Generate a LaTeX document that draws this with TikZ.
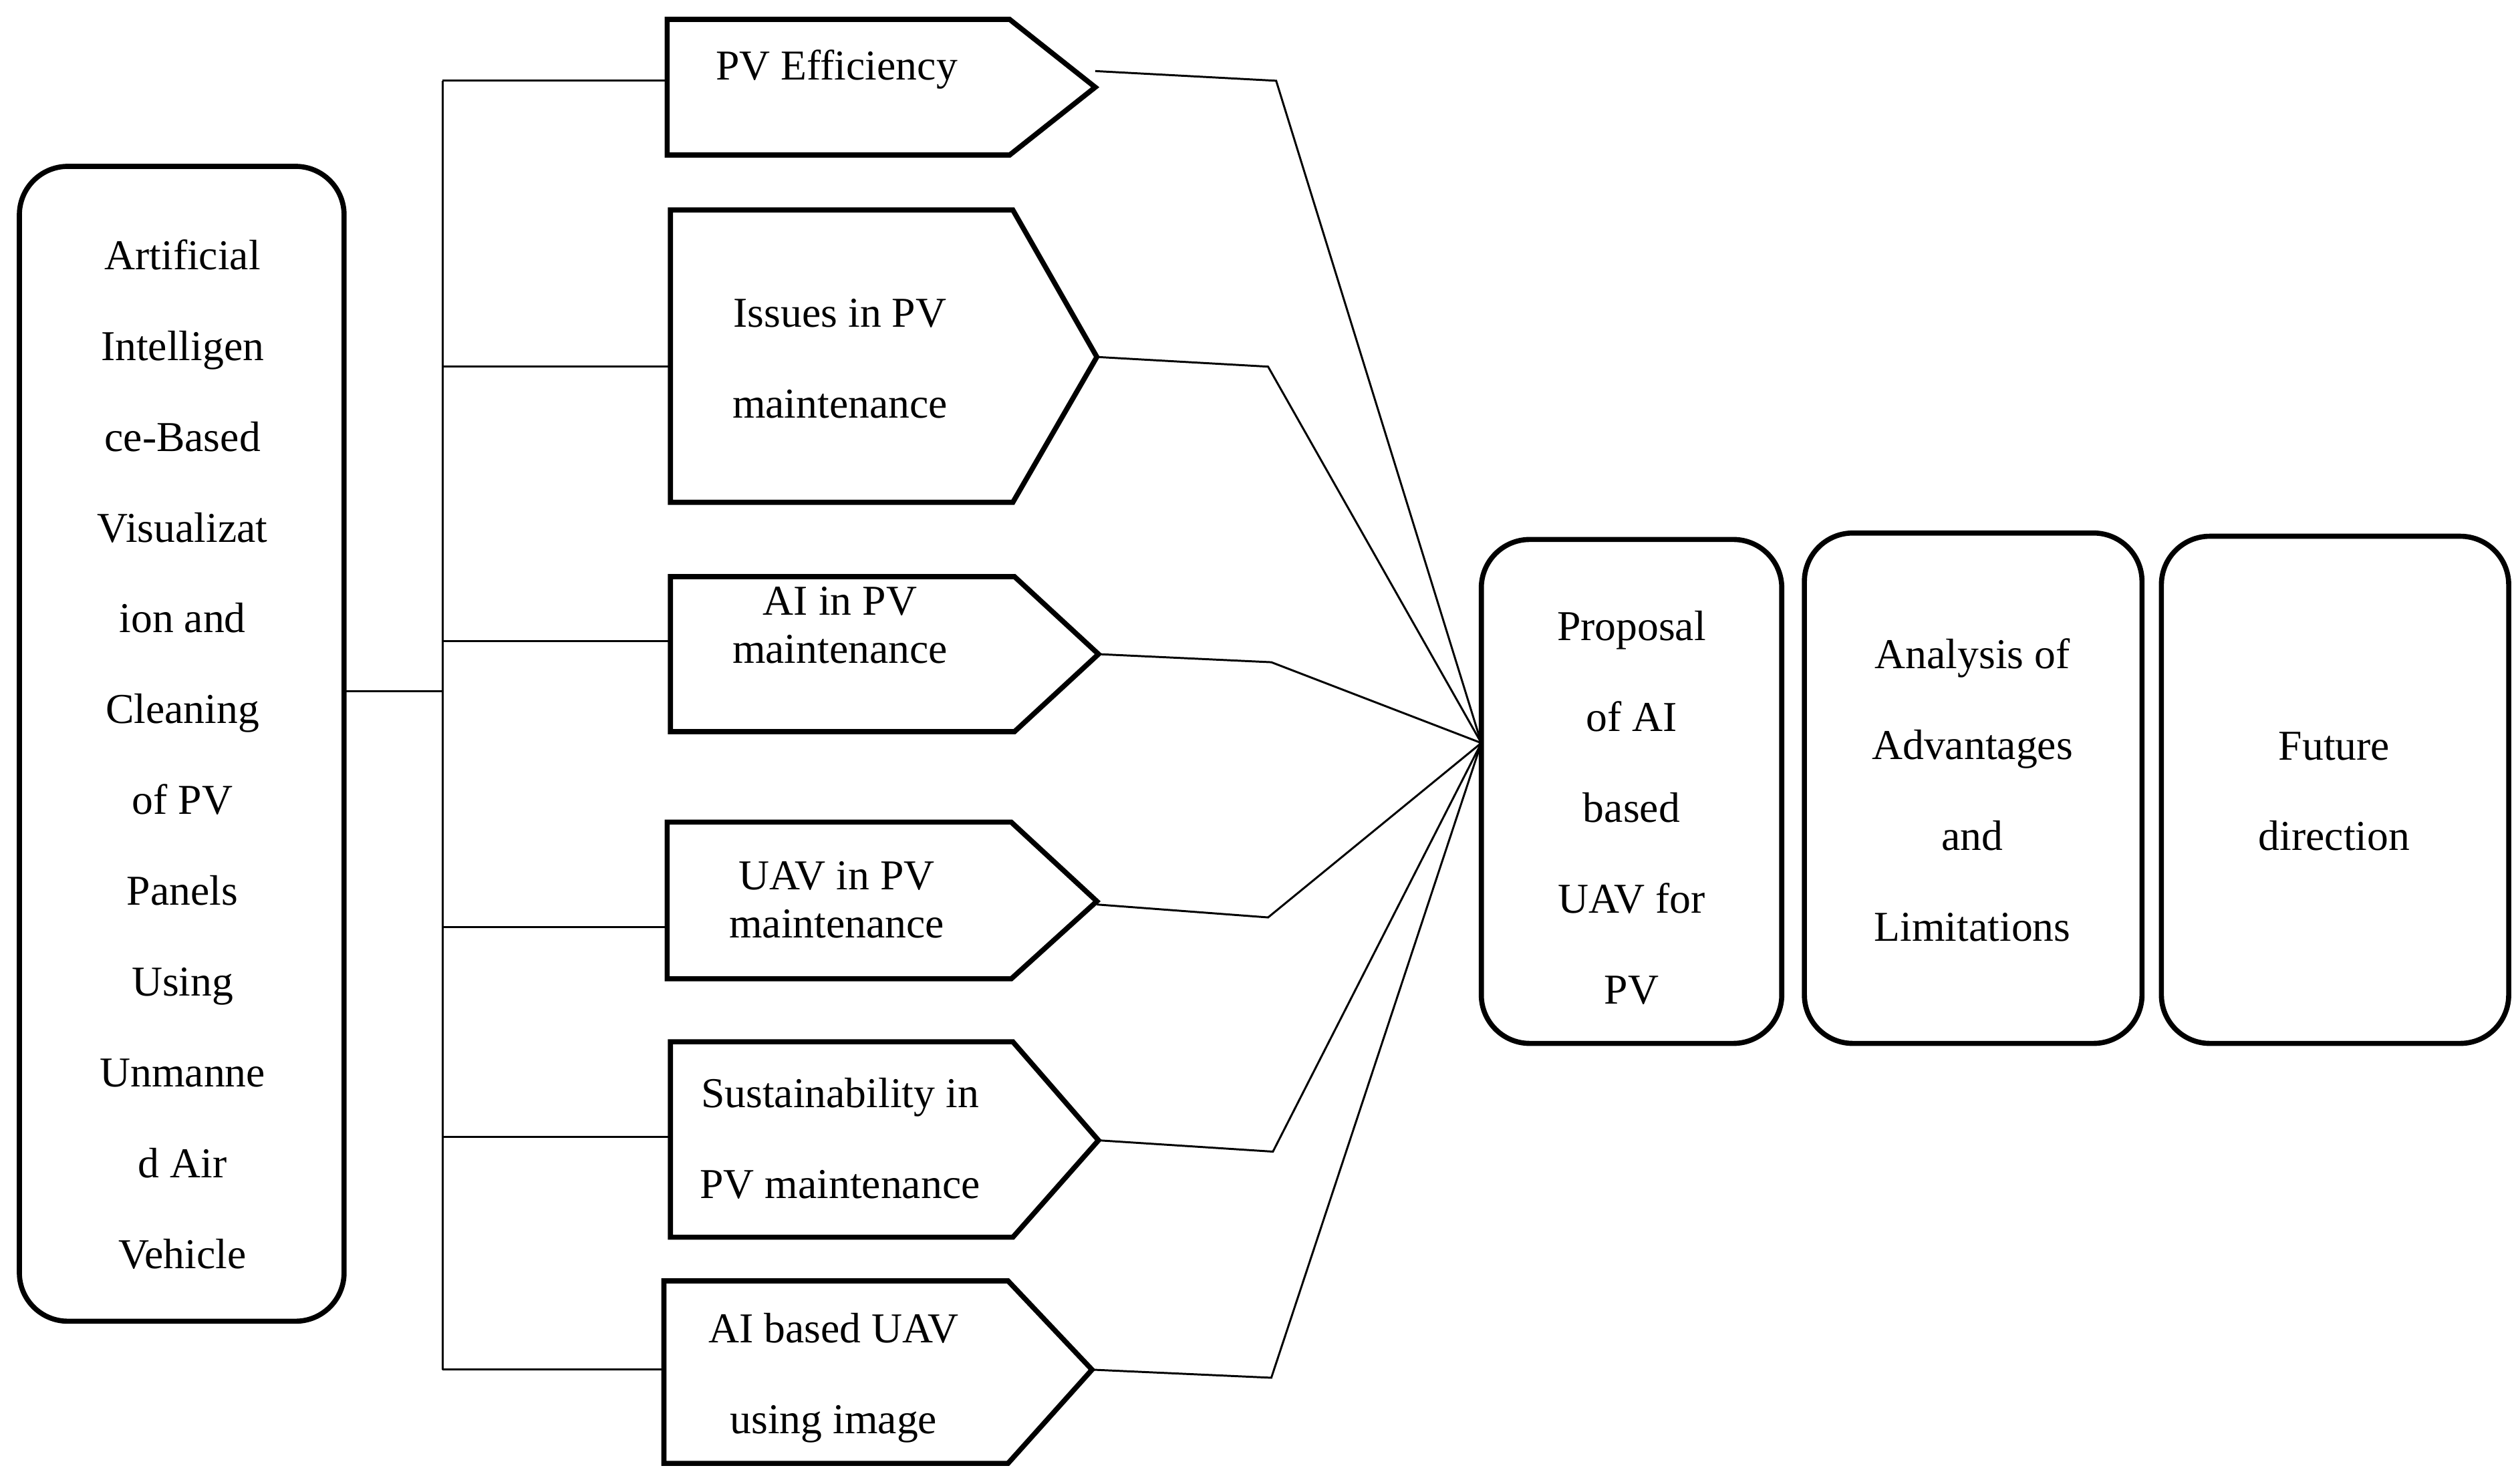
\documentclass[tikz,border=0pt]{standalone}
\usepackage{fontspec}
\setmainfont{Liberation Serif}
\begin{document}
\begin{tikzpicture}[x=0.02cm,y=-0.02cm,
  box/.style={draw,line width=1.8pt,rounded corners=0.6cm},
  pent/.style={draw,line width=1.8pt,line join=miter},
  link/.style={line width=0.7pt},
  txt/.style={font=\fontsize{15}{32}\selectfont,align=center,inner sep=0pt},
  tight/.style={font=\fontsize{15}{17}\selectfont,align=center,inner sep=0pt}]
\useasboundingbox (0,0) rectangle (1560,916);
% left box
\draw[box] (12,103) rectangle (213,818);
\node[txt] (main) at (113,467) {Artificial\\Intelligen\\ce-Based\\Visualizat\\ion and\\Cleaning\\of PV\\Panels\\Using\\Unmanne\\d Air\\Vehicle};
% bus
\coordinate (bm) at (274,428);
\coordinate (bt) at (274,50);
\coordinate (bb) at (274,848);
\draw[link] (213,428) -- (bm);
\draw[link] (bt) -- (bb);
% pentagons: left x, top, bottom, shoulder x, tip x, tip y, branch y
\foreach \n/\l/\t/\b/\s/\p/\q/\y in {1/413/12/96/625/678/54/50,
  2/415/130/311/627/679/221/227, 3/415/357/453/628/680/405/397,
  4/413/509/606/626/679/558/574, 5/415/645/766/627/680/706/704,
  6/411/793/906/624/676/848/848}{
  \draw[pent] (\l,\t) -- (\s,\t) -- (\p,\q) -- (\s,\b) -- (\l,\b) -- cycle;
  \coordinate (tip\n) at (\p,\q);
  \coordinate (in\n) at (\l,\y);
  \draw[link] (274,\y) -- (in\n);
}
\node[txt] (p1) at (518,43) {PV Efficiency};
\node[txt] (p2) at (520,222) {Issues in PV\\maintenance};
\node[tight] (p3) at (520,387) {AI in PV\\maintenance};
\node[tight] (p4) at (518,557) {UAV in PV\\maintenance};
\node[txt] (p5) at (520,705) {Sustainability in\\PV maintenance};
\node[txt] (p6) at (516,853) {AI based UAV\\using image};
% right boxes
\draw[box] (917,334) rectangle (1103,646);
\node[txt] (prop) at (1010,500) {Proposal\\of AI\\based\\UAV for\\PV};
\draw[box] (1117,330) rectangle (1326,646);
\node[txt] (ana) at (1221,489) {Analysis of\\Advantages\\and\\Limitations};
\draw[box] (1338,332) rectangle (1553,646);
\node[txt] (fut) at (1445,490) {Future\\direction};
% converging connectors
\coordinate (hub) at (917,460);
\draw[link] (tip1) ++(0,-10) -- (790,50) -- (hub);
\draw[link] (tip2) -- (785,227) -- (hub);
\draw[link] (tip3) -- (787,410) -- (hub);
\draw[link] (tip4) ++(0,2) -- (785,568) -- (hub);
\draw[link] (tip5) -- (788,713) -- (hub);
\draw[link] (tip6) -- (787,853) -- (hub);
\end{tikzpicture}
\end{document}
